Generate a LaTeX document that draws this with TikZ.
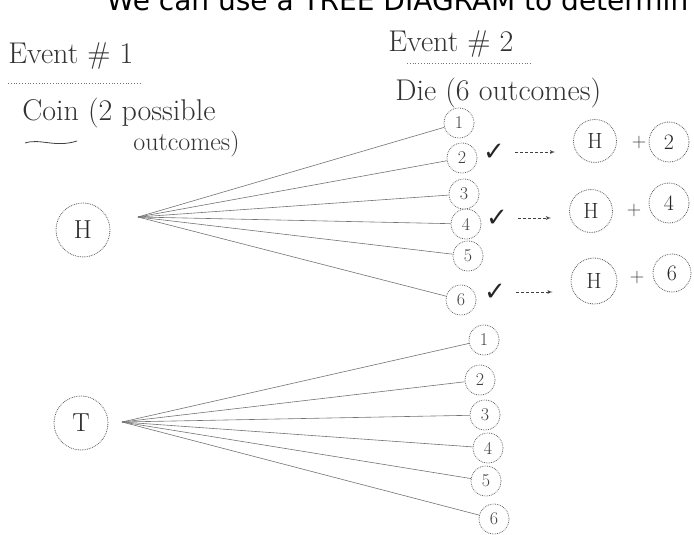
\documentclass[tikz,border=0pt]{standalone}
\usepackage{fontspec}
\newfontfamily\titlefont{DejaVu Sans}
\newfontfamily\markfont{DejaVu Sans}
\usepackage{xcolor}
\usetikzlibrary{shapes.geometric, arrows, positioning}

\begin{document}
\begin{tikzpicture}[x=1pt, y=-1pt, >=latex', thick,
    hand/.style={text=black!80, inner sep=0pt, font=\fontsize{30}{34}\selectfont},
    coin/.style={draw=black!65, densely dotted, circle, minimum size=54pt, inner sep=0pt, text=black!85, font=\fontsize{26}{28}\selectfont},
    die/.style={draw=black!60, densely dotted, circle, minimum size=30pt, inner sep=0pt, text=black!75, font=\fontsize{18}{20}\selectfont},
    pair/.style={draw=black!65, densely dotted, circle, minimum size=43pt, inner sep=0pt, text=black!85, font=\fontsize{22}{24}\selectfont},
    branch/.style={draw=black!55, line width=0.6pt},
    checkmark/.style={inner sep=0pt, text=black!85, font=\markfont\fontsize{26}{28}\selectfont},
    plussign/.style={inner sep=0pt, text=black!75, font=\fontsize{20}{22}\selectfont},
    arrowline/.style={->, densely dashed, draw=black!75, shorten <=10pt, shorten >=18pt}]

    \useasboundingbox (0,0) rectangle (694,535);
    \clip (0,0) rectangle (694,535);

    % Headings
    \node (title) [anchor=base west, font=\titlefont\fontsize{28}{30}\selectfont] at (103,11) {We can use a TREE DIAGRAM to determin};
    \node (ev1) [hand, anchor=west] at (8,56) {Event \# 1};
    \node (coin1) [hand, anchor=west] at (22,113) {Coin (2 possible};
    \node (coin2) [hand, anchor=west, font=\fontsize{26}{30}\selectfont] at (133,144) {outcomes)};
    \node (ev2) [hand, anchor=west] at (388,44) {Event \# 2};
    \node (die) [hand, anchor=west] at (395,93) {Die (6 outcomes)};
    \draw[black!55, dotted] (8,83) -- (140,83);
    \draw[black!55, dotted] (407,63) -- (532,63);
    \draw[black!75] (25,143) .. controls (40,138) and (55,148) .. (77,141);

    % Event 1
    \node (coinH) [coin] at (83,230) {H};
    \node (coinT) [coin] at (81,423) {T};
    \coordinate (hfork) at (138,217);
    \coordinate (tfork) at (122,422);

    % Event 2 after H
    \node (hd1) [die] at (459,123) {1};
    \node (hd2) [die] at (462,158) {2};
    \node (hd3) [die] at (464,194) {3};
    \node (hd4) [die] at (466,224) {4};
    \node (hd5) [die] at (468,256) {5};
    \node (hd6) [die] at (461,300) {6};

    % Event 2 after T
    \node (td1) [die] at (484,340) {1};
    \node (td2) [die] at (480,380) {2};
    \node (td3) [die] at (485,415) {3};
    \node (td4) [die] at (488,448) {4};
    \node (td5) [die] at (486,481) {5};
    \node (td6) [die] at (494,519) {6};

    % Branches
    \draw[branch] (hfork) -- (hd1);
    \draw[branch] (hfork) -- (hd2);
    \draw[branch] (hfork) -- (hd3);
    \draw[branch] (hfork) -- (hd4);
    \draw[branch] (hfork) -- (hd5);
    \draw[branch] (hfork) -- (hd6);
    \draw[branch] (tfork) -- (td1);
    \draw[branch] (tfork) -- (td2);
    \draw[branch] (tfork) -- (td3);
    \draw[branch] (tfork) -- (td4);
    \draw[branch] (tfork) -- (td5);
    \draw[branch] (tfork) -- (td6);

    % Even outcomes
    \node (chk1) [checkmark] at (494,152) {✓};
    \node (rh1) [pair] at (595,141) {H};
    \node (plus1) [plussign] at (639,143) {+};
    \node (rn1) [pair, minimum size=40pt] at (669,142) {2};

    \node (chk2) [checkmark] at (497,218) {✓};
    \node (rh2) [pair] at (591,211) {H};
    \node (plus2) [plussign] at (634,211) {+};
    \node (rn2) [pair, minimum size=40pt] at (669,203) {4};

    \node (chk3) [checkmark] at (495,292) {✓};
    \node (rh3) [pair, minimum size=46pt] at (594,281) {H};
    \node (plus3) [plussign] at (637,278) {+};
    \node (rn3) [pair, minimum size=38pt] at (672,273) {6};

    % Links
    \draw[arrowline] (chk1) -- (chk1 -| rh1.west);
    \draw[arrowline] (chk2) -- (chk2 -| rh2.west);
    \draw[arrowline] (chk3) -- (chk3 -| rh3.west);
\end{tikzpicture}
\end{document}
